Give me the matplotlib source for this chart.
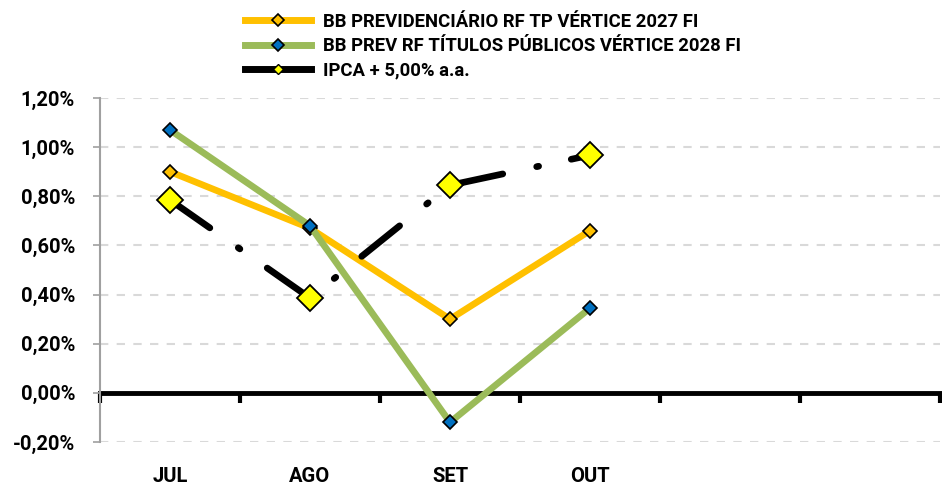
import numpy as np
import matplotlib.pyplot as plt
from matplotlib.lines import Line2D
from matplotlib.ticker import FuncFormatter

# Rentabilidade mensal (%)
meses = ['JUL', 'AGO', 'SET', 'OUT', '', '']
vertice_2027 = [0.90, 0.67, 0.30, 0.66]
vertice_2028 = [1.07, 0.68, -0.12, 0.345]
ipca_meta = [0.785, 0.386, 0.845, 0.967]
nomes = ['BB PREVIDENCIÁRIO RF TP VÉRTICE 2027 FI',
         'BB PREV RF TÍTULOS PÚBLICOS VÉRTICE 2028 FI',
         'IPCA + 5,00% a.a.']
y_ticks = [-0.2, 0.0, 0.2, 0.4, 0.6, 0.8, 1.0, 1.2]

amarelo = '#FFC000'
verde = '#9BBB59'
azul = '#0070C0'
amarelo_claro = '#FFFF00'

plt.rcParams['font.family'] = ['Roboto', 'DejaVu Sans']
plt.rcParams['font.weight'] = 'bold'

fig = plt.figure(figsize=(9.42, 4.87), dpi=100)
ax = fig.add_axes([100 / 942, 45 / 487, 840 / 942, 344 / 487])

x = np.arange(len(meses))

ax.plot(x[:len(vertice_2027)], vertice_2027, color=amarelo, lw=4.8,
        marker='D', ms=7, mfc=amarelo, mec='black', mew=1.2, zorder=3)
ax.plot(x[:len(vertice_2028)], vertice_2028, color=verde, lw=4.8,
        marker='D', ms=7, mfc=azul, mec='black', mew=1.2, zorder=4)
ax.plot(x[:len(ipca_meta)], ipca_meta, color='black', lw=4.8,
        linestyle=(0, (7.3, 5.2, 0.3, 5.0)), dash_capstyle='round',
        marker='D', ms=13, mfc=amarelo_claro, mec='black', mew=1.3, zorder=5)

ax.set_xlim(-0.5, len(meses) - 0.5)
ax.set_ylim(y_ticks[0], y_ticks[-1])
ax.set_yticks(y_ticks)
ax.yaxis.set_major_formatter(FuncFormatter(lambda v, p: f'{v:.2f}%'.replace('.', ',')))
ax.tick_params(axis='y', labelsize=14.5, length=5, width=1.2, color='#A0A0A0', pad=13)
for v in y_ticks:
    if v != 0:
        ax.axhline(v, color='#D9D9D9', lw=1.5, linestyle=(0, (4, 4)), zorder=1)

ax.set_xticks(x)
ax.set_xticklabels(meses)
ax.tick_params(axis='x', labelsize=14.5, length=0, pad=18)
for lbl in ax.get_xticklabels() + ax.get_yticklabels():
    lbl.set_fontweight('bold')

for lado in ['top', 'right', 'bottom']:
    ax.spines[lado].set_visible(False)
ax.spines['left'].set_color('#A0A0A0')
ax.spines['left'].set_linewidth(1.5)

# eixo horizontal no zero
zero = (0 - y_ticks[0]) / (y_ticks[-1] - y_ticks[0])
sec = ax.secondary_xaxis(zero)
sec.set_xticks(np.arange(-0.5, len(meses), 1.0))
sec.set_xticklabels([])
sec.spines['bottom'].set_linewidth(3.5)
sec.spines['bottom'].set_color('black')
sec.tick_params(axis='x', length=7, width=3, color='black', direction='out')

handles = [
    Line2D([], [], color=amarelo, lw=5, marker='D', ms=6, mfc=amarelo, mec='black', mew=1.2),
    Line2D([], [], color=verde, lw=5, marker='D', ms=6, mfc=azul, mec='black', mew=1.2),
    Line2D([], [], color='black', lw=5, marker='D', ms=5, mfc=amarelo_claro, mec='black', mew=1),
]
fig.legend(handles, nomes, loc='upper left', bbox_to_anchor=(232 / 942, 1.0),
           frameon=False, prop={'size': 13.3, 'weight': 'bold'}, handlelength=3.6,
           handletextpad=0.6, labelspacing=0.33, borderaxespad=0.3)

plt.savefig('out.png', dpi=100)
